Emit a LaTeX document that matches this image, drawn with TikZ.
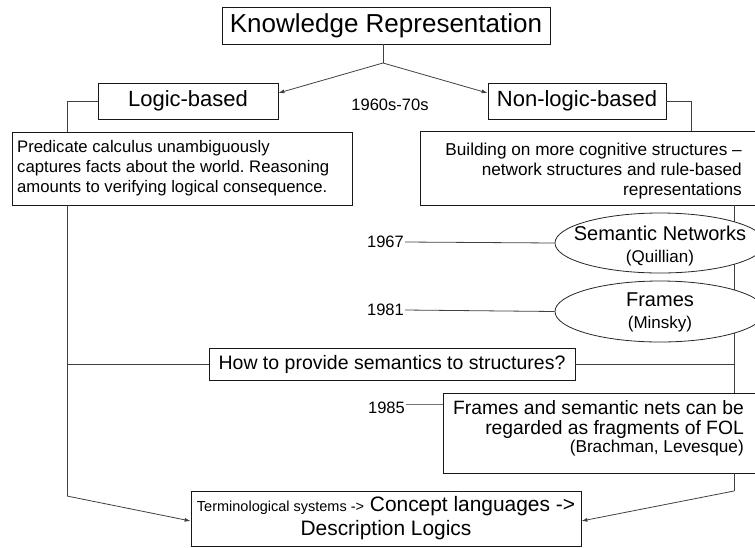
\documentclass[tikz,border=0pt]{standalone}
\usepackage{fontspec}
\setmainfont{Liberation Sans}
\usetikzlibrary{arrows.meta,shapes.geometric}

\newcommand{\fs}[2]{\fontsize{#1}{#2}\selectfont}

\tikzset{
  box/.style={draw=black!90, line width=0.8pt, fill=white, inner sep=0pt},
  oval/.style={ellipse, draw=black!85, line width=0.8pt, fill=white, inner sep=0pt,
    minimum width=210pt},
  label/.style={inner sep=0pt},
  yeartext/.style={label, anchor=east, font=\fs{16.5}{20}},
  conn/.style={draw=black!75, line width=0.8pt},
  arr/.style={conn, -{Latex[length=6pt,width=4pt]}},
}

\begin{document}
\frenchspacing
\begin{tikzpicture}[x=1pt,y=-1pt]
\useasboundingbox (0,0) rectangle (755,547);
\clip (0,0) rectangle (755,547);

% top of the tree
\node[box, minimum width=328pt, minimum height=37pt, font=\fs{26}{30}]
  (kr) at (386,25.5) {Knowledge Representation};
\node[box, minimum width=180pt, minimum height=36pt, font=\fs{22}{26}]
  (logic) at (188,101) {Logic-based};
\node[box, minimum width=178pt, minimum height=36pt, font=\fs{22}{26}]
  (nonlogic) at (577,101) {Non-logic-based};
\node[label, font=\fs{16.5}{20}] (era) at (390,105) {1960s-70s};

% description boxes of the two branches
\node[box, minimum width=340pt, minimum height=73pt] (pred) at (182,168.5) {};
\node[label, anchor=west, align=left, font=\fs{16.7}{20}] (predtext) at (17,168.5)
  {Predicate calculus unambiguously\\
   captures facts about the world. Reasoning\\
   amounts to verifying logical consequence.};
\node[box, minimum width=337pt, minimum height=74pt] (build) at (588.5,168) {};
\node[label, anchor=east, align=right, font=\fs{17.2}{20}] (buildtext) at (742,171)
  {Building on more cognitive structures --\\
   network structures and rule-based\\
   representations};

% later boxes
\node[box, minimum width=366pt, minimum height=32pt, font=\fs{19.5}{22}]
  (howto) at (392,364) {How to provide semantics to structures?};
\node[box, minimum width=314pt, minimum height=80pt] (fbox) at (600,433) {};
\node[label, anchor=east, align=right, font=\fs{19.3}{20}] (ftext) at (744,428.5)
  {Frames and semantic nets can be\\
   regarded as fragments of FOL\\[-2pt]
   {\fs{17.2}{18}(Brachman, Levesque)}};
\node[box, minimum width=390pt, minimum height=55pt, align=center,
  font=\fs{20.9}{24}] (dl) at (386,518.5)
  {{\fs{14.5}{18}Terminological systems ->} Concept languages ->\\
   Description Logics};

% trunks
\coordinate (J) at (383,63);
\coordinate (LT) at (67,496);
\coordinate (RT) at (734,491);

\draw[conn] (J |- kr.south) -- (J);
\draw[arr] (J) -- ([yshift=8pt]logic.east);
\draw[arr] (J) -- ([yshift=8pt]nonlogic.west);

\draw[conn] (logic.west) -| (LT |- pred.north);
\draw[conn] (nonlogic.east) -| ([xshift=272pt]build.north west);

\draw[conn] (LT |- pred.south) -- (LT);
\draw[arr] (LT) -- ([yshift=-2.5pt]dl.west);
\draw[conn] (LT |- howto.west) -- (howto.west);

\draw[conn] (RT |- build.south) -- (RT |- fbox.north);
\draw[conn] (howto.east) -- (RT |- howto.east);
\draw[conn] (RT |- fbox.south) -- (RT);
\draw[arr] (RT) -- ([yshift=-2.5pt]dl.east);

% structures of the non-logic branch
\node[oval, minimum height=60pt] (sem) at (660,243) {};
\node[label, align=center, font=\fs{20}{22.5}] (semtext) at (660,246)
  {Semantic Networks\\{\fs{17}{20}(Quillian)}};
\node[oval, minimum height=61pt] (fra) at (660,311.5) {};
\node[label, align=center, font=\fs{20}{21.5}] (fratext) at (660,312.5)
  {Frames\\{\fs{17}{20}(Minsky)}};

% years
\node[yeartext] (y1967) at (404,242) {1967};
\node[yeartext] (y1981) at (404,310) {1981};
\node[yeartext] (y1985) at (405,408) {1985};

\draw[conn] ([xshift=1pt]y1967.east) -- (sem.west);
\draw[conn] ([xshift=1pt]y1981.east) -- (fra.west);
\draw[conn, draw=black!55] ([xshift=1pt,yshift=4pt]y1985.east) -- ([yshift=4pt]y1985.east -| fbox.west);
\end{tikzpicture}
\end{document}
